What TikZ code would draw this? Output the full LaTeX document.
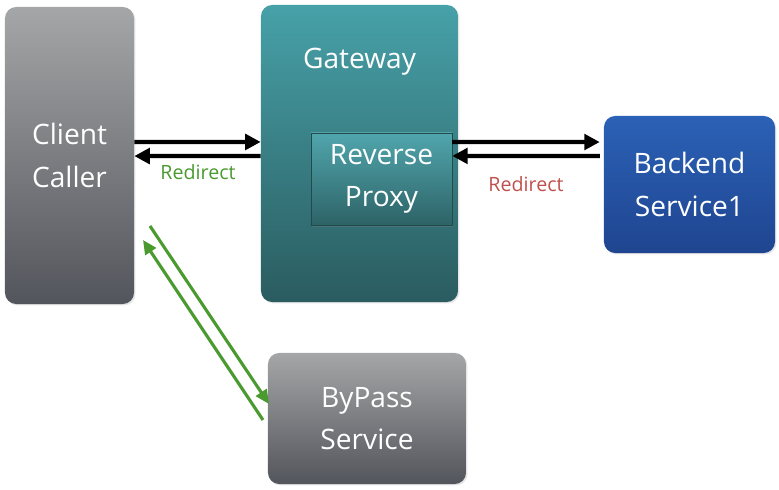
\documentclass[tikz,border=0pt]{standalone}
\usepackage{fontspec}
\setmainfont{Open Sans}
\usetikzlibrary{arrows.meta,shadows,positioning}

\definecolor{greytop}{HTML}{A4A6A7}
\definecolor{greybot}{HTML}{53555C}
\definecolor{tealtop}{HTML}{47A1A8}
\definecolor{tealbot}{HTML}{2A5C60}
\definecolor{bluetop}{HTML}{2B61B6}
\definecolor{bluebot}{HTML}{1F4590}
\definecolor{okgreen}{HTML}{4A9A30}
\definecolor{badred}{HTML}{C0504D}

\begin{document}
\begin{tikzpicture}[x=0.025cm,y=-0.025cm,
  box/.style={rounded corners=8pt,text=white,align=center,
    font=\fontsize{20}{30}\selectfont,
    drop shadow={opacity=0.2,shadow xshift=1pt,shadow yshift=-1pt}},
  greybox/.style={box,top color=greytop,bottom color=greybot},
  tealbox/.style={box,top color=tealtop,bottom color=tealbot},
  bluebox/.style={box,top color=bluetop,bottom color=bluebot},
  call/.style={line width=3pt,-{Triangle[length=11pt,width=11pt]}},
  bypass/.style={draw=okgreen,line width=2.2pt,-{Triangle[length=10pt,width=9pt]}},
  note/.style={font=\fontsize{14}{17}\selectfont}]
\useasboundingbox (0,0) rectangle (779,490);

\node[greybox,minimum width=3.225cm,minimum height=7.425cm] (client) at (69.5,155.5) {Client\\Caller};
\node[tealbox,minimum width=4.925cm,minimum height=7.425cm,
  label={[anchor=center,yshift=-1.425cm,text=white,font=\fontsize{20}{30}\selectfont]north:Gateway}] (gw) at (359.5,153.5) {};
\node[tealbox,rounded corners=0pt,top color=tealtop!95!white,bottom color=tealbot!90!tealtop,
  draw=tealbot!80!black,line width=0.3pt,
  drop shadow={opacity=0.35,shadow xshift=1pt,shadow yshift=-1.5pt},
  minimum width=3.525cm,minimum height=2.3cm] (proxy) at (381.5,179) {Reverse\\Proxy};
\node[bluebox,minimum width=4.275cm,minimum height=3.425cm] (backend) at (689.5,184.5) {Backend\\Service1};
\node[greybox,minimum width=4.95cm,minimum height=3.275cm] (bypass) at (367,418.5) {ByPass\\Service};

% calls through the gateway
\draw[call] ([yshift=9.6pt]client.east) -- ([yshift=8.2pt]gw.west);
\draw[call] ([yshift=-1.8pt]gw.west) -- ([yshift=-0.4pt]client.east);
\node[note,text=okgreen] (redir1) at (198,172) {Redirect};
\draw[call] ([yshift=26.3pt]proxy.east) -- ([yshift=30.2pt,xshift=-2.8pt]backend.west);
\draw[call] ([yshift=20.3pt,xshift=-2.8pt]backend.west) -- ([yshift=16.4pt]proxy.east);
\node[note,text=badred] (redir2) at (526,184) {Redirect};

% redirect to the bypass service
\coordinate (c1) at (150,226);
\coordinate (b1) at (269,404);
\coordinate (b2) at (263,420);
\coordinate (c2) at (143,240);
\draw[bypass] (c1) -- (b1);
\draw[bypass] (b2) -- (c2);
\end{tikzpicture}
\end{document}
